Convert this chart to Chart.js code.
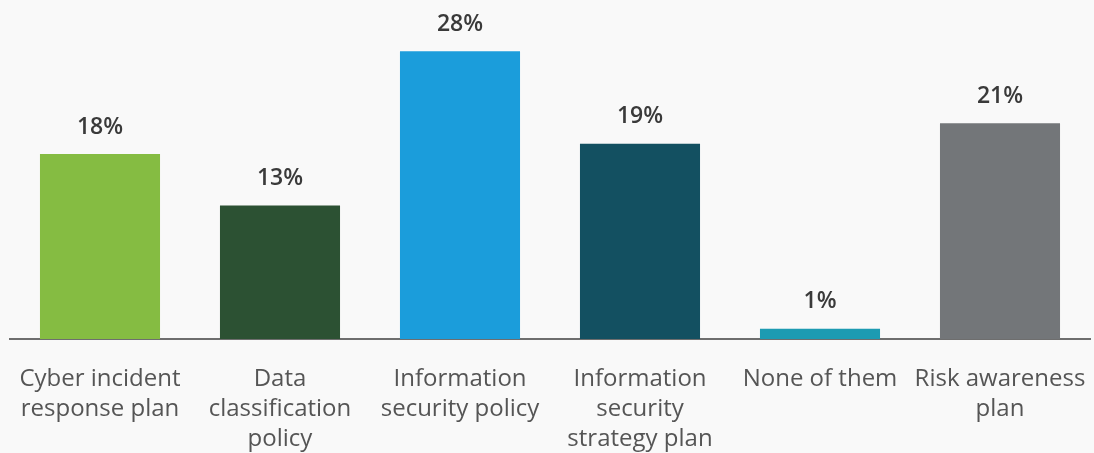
<!DOCTYPE html>
<html>
<head>
<meta charset="utf-8">
<script src="https://cdn.jsdelivr.net/npm/chart.js@4"></script>
<style>
  html, body { margin: 0; padding: 0; background: #f9f9f9; }
  #wrap { width: 1094px; height: 453px; }
</style>
</head>
<body>
<div id="wrap"><canvas id="chart"></canvas></div>
<script>
const categories = [
    ['Cyber incident', 'response plan'],
    ['Data', 'classification', 'policy'],
    ['Information', 'security policy'],
    ['Information', 'security', 'strategy plan'],
    ['None of them'],
    ['Risk awareness', 'plan']
];
const shares = [18, 13, 28, 19, 1, 21];
const barColors = ['#85bc42', '#2c5133', '#1b9ddb', '#135061', '#1d9bb2', '#737679'];

// value labels above each bar
const valueLabels = {
    id: 'valueLabels',
    afterDatasetsDraw(chart) {
        const ctx = chart.ctx;
        const meta = chart.getDatasetMeta(0);
        ctx.save();
        ctx.font = '600 23px "Open Sans"';
        ctx.fillStyle = '#3a3a3a';
        ctx.textAlign = 'center';
        ctx.textBaseline = 'middle';
        meta.data.forEach(function(bar, i) {
            ctx.fillText(shares[i] + '%', bar.x, bar.y - 27);
        });
        ctx.restore();
    }
};

const ctx = document.getElementById('chart').getContext('2d');
new Chart(ctx, {
    type: 'bar',
    data: {
        labels: categories,
        datasets: [{
            data: shares,
            backgroundColor: barColors,
            borderWidth: 0,
            barPercentage: 0.667,
            categoryPercentage: 1
        }]
    },
    options: {
        responsive: true,
        maintainAspectRatio: false,
        animation: false,
        layout: { padding: { left: 10, right: 4, top: 0, bottom: -26 } },
        plugins: {
            legend: { display: false },
            tooltip: { enabled: false }
        },
        scales: {
            y: {
                display: false,
                min: 0,
                max: 33
            },
            x: {
                grid: { display: false, drawTicks: false },
                border: { display: true, color: '#6e6e6e', width: 2 },
                afterFit: function(scale) {
                    // labels fit inside their own columns, no extra side padding
                    scale.paddingLeft = 0;
                    scale.paddingRight = 0;
                },
                ticks: {
                    color: '#555555',
                    padding: 25,
                    maxRotation: 0,
                    autoSkip: false,
                    font: { family: '"Open Sans"', size: 24, lineHeight: 1.25 }
                }
            }
        }
    },
    plugins: [valueLabels]
});
</script>
</body>
</html>
